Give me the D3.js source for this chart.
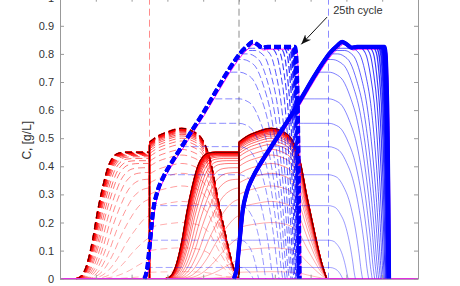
<!DOCTYPE html>
<html>
<head>
<meta charset="utf-8">
<script src="https://cdn.jsdelivr.net/npm/d3@7"></script>
<style>
  body { margin: 0; background: #fff; }
  svg { display: block; }
  text { font-family: Arial, "Liberation Sans", Helvetica, sans-serif; }
</style>
</head>
<body>
<div id="chart"></div>
<script>
// ---- data (x: position along the 4 columns, 0..100) ----
const xTicks = [0, 10, 20, 30, 40, 50, 60, 70, 80, 90, 100];
const yTicks = [0, 0.1, 0.2, 0.3, 0.4, 0.5, 0.6, 0.7, 0.8, 0.9, 1];
const yTickLabels = ["0", "0.1", "0.2", "0.3", "0.4", "0.5", "0.6", "0.7", "0.8", "0.9", "1"];
const columnEnds = [25, 50, 75];
const columnColors = ["#ff8c8c", "#8c8c8c", "#8c8cff"];
const nCycles = 25;

// red component, 25th cycle, profile at the start of a step (dashed)
const redRiseX = [4.5, 6, 7.5, 9, 10.5, 12, 13.5, 15, 16.5, 18.5];
const redRiseY = [0, 0.01, 0.05, 0.13, 0.24, 0.33, 0.40, 0.435, 0.447, 0.45];
const redHumpX = [25, 27, 30, 34, 37, 40, 42, 44, 46, 48, 49.5];
const redHumpY = [0.486, 0.505, 0.522, 0.535, 0.525, 0.49, 0.42, 0.29, 0.17, 0.06, 0];
// per cycle: plateau in the 1st column, hump top in the 2nd, widening of the front
const redPlateau = [0.02, 0.10, 0.18, 0.245, 0.29, 0.325, 0.355, 0.378, 0.395, 0.41, 0.42, 0.428, 0.434,
                    0.438, 0.441, 0.443, 0.445, 0.446, 0.447, 0.448, 0.449, 0.449, 0.45, 0.45, 0.45];
const redPeak = [0.025, 0.11, 0.20, 0.275, 0.33, 0.375, 0.41, 0.44, 0.46, 0.478, 0.49, 0.50, 0.508,
                 0.514, 0.519, 0.523, 0.526, 0.528, 0.53, 0.531, 0.532, 0.533, 0.534, 0.535, 0.535];
const redStretch = [2.4, 2.15, 1.95, 1.78, 1.63, 1.51, 1.41, 1.33, 1.26, 1.2, 1.16, 1.12, 1.09,
                    1.07, 1.055, 1.042, 1.032, 1.024, 1.017, 1.011, 1.007, 1.004, 1.002, 1.001, 1];

// blue component, 25th cycle front (dashed)
const blueFrontX = [23.6, 24.4, 25.2, 26, 27.2, 28.8, 31, 34, 37, 40, 43, 46, 48.5, 50.5, 52.5, 53.8, 55, 56.5, 58, 62, 66];
const blueFrontY = [0, 0.04, 0.14, 0.24, 0.31, 0.36, 0.41, 0.47, 0.53, 0.59, 0.655, 0.72, 0.77, 0.805, 0.83, 0.843, 0.835, 0.822, 0.825, 0.825, 0.825];
// per cycle: level reached, where the rear starts to fall and where it hits zero
const blueLevel = [0.04, 0.137, 0.26, 0.37, 0.47, 0.553, 0.64, 0.735, 0.78, 0.80, 0.812, 0.82, 0.85,
                   0.85, 0.85, 0.85, 0.85, 0.85, 0.85, 0.85, 0.85, 0.85, 0.85, 0.85, 0.85];
const blueDropStart = [50, 50, 50, 50, 50, 50, 50, 50, 51, 52.5, 54.5, 56.5, 58.5,
                       60, 61.3, 62.4, 63.2, 63.9, 64.4, 64.8, 65.1, 65.3, 65.4, 65.5, 65.6];
const blueDropEnd = [54, 55.5, 57.5, 59.5, 61.2, 62.2, 62.9, 63.5, 64, 64.5, 64.9, 65.3, 65.6,
                     65.9, 66.1, 66.3, 66.45, 66.55, 66.65, 66.7, 66.75, 66.8, 66.85, 66.9, 66.9];
const dropT = [0, 0.15, 0.3, 0.45, 0.6, 0.72, 0.82, 0.9, 0.96, 1];
const dropF = [1, 0.99, 0.96, 0.88, 0.76, 0.6, 0.42, 0.24, 0.08, 0];

const stepShift = 25;          // solid curves = profile one column further on
const noteText = "25th cycle";
const notePos = [76.3, 0.942];
const arrowFrom = [74.6, 0.931];
const arrowTo = [67.4, 0.834];

// ---- drawing ----
const width = 460, height = 286;
const x = d3.scaleLinear().domain([0, 100]).range([60, 418]);
const y = d3.scaleLinear().domain([0, 1]).range([278.7, -2.3]);

const svg = d3.select("#chart").append("svg")
  .attr("width", width).attr("height", height);

const smooth = d3.line().x(d => x(d[0])).y(d => y(d[1])).curve(d3.curveMonotoneX);
const straight = d3.line().x(d => x(d[0])).y(d => y(d[1]));

// column boundaries
svg.append("g").selectAll("line").data(columnEnds).join("line")
  .attr("x1", d => x(d)).attr("x2", d => x(d))
  .attr("y1", y(1)).attr("y2", y(0))
  .attr("stroke", (d, i) => columnColors[i])
  .attr("stroke-width", 1)
  .attr("stroke-dasharray", "7,4");

function redPaths(k, off) {
  const p = redPlateau[k], q = redPeak[k], g = redStretch[k];
  const sy = p / d3.max(redRiseY);
  const sx = redRiseX.map(v => v * g);
  const rise = d3.scaleLinear().domain(sx).range(redRiseY.map(v => v * sy)).clamp(true);
  const pts = [];
  sx.forEach((v, i) => { if (v < columnEnds[0]) pts.push([v, redRiseY[i] * sy]); });
  const end = rise(columnEnds[0]);
  pts.push([columnEnds[0], end]);
  const hs = q / d3.max(redHumpY);
  const hump = redHumpX.map((v, i) => [v, redHumpY[i] * hs]);
  const sh = a => a.map(d => [d[0] + off, d[1]]);
  return smooth(sh(pts)) +
    straight(sh([[columnEnds[0], end], [columnEnds[0], 0], [columnEnds[0], hump[0][1]]])) +
    smooth(sh(hump));
}

const front = d3.scaleLinear().domain(blueFrontX).range(blueFrontY).clamp(true);
function bluePath(k, off, dy) {
  const h = blueLevel[k], a = blueDropStart[k], b = blueDropEnd[k];
  const pts = [];
  for (let i = 0; i < blueFrontX.length && blueFrontX[i] < a; i++) {
    const fy = blueFrontY[i];
    if (i > 0 && blueFrontY[i - 1] < h && fy > h) {
      const t = (h - blueFrontY[i - 1]) / (fy - blueFrontY[i - 1]);
      pts.push([blueFrontX[i - 1] + t * (blueFrontX[i] - blueFrontX[i - 1]), h]);
    }
    pts.push([blueFrontX[i], Math.min(fy, h)]);
  }
  const ya = Math.min(front(a), h);
  dropT.forEach((t, j) => pts.push([a + t * (b - a), ya * dropF[j]]));
  return smooth(pts.map(d => [d[0] + off, d[1] * (dy || 1)]));
}

const cycles = d3.range(nCycles);
const frac = k => k / (nCycles - 1);

// red component
const gRed = svg.append("g").attr("fill", "none");
[[0, "7,4"], [stepShift, null]].forEach(([off, dash]) => {
  gRed.append("g").selectAll("path").data(cycles).join("path")
    .attr("d", k => redPaths(k, off))
    .attr("stroke", "#ff0000")
    .attr("stroke-opacity", k => 0.35 + 0.65 * frac(k))
    .attr("stroke-width", k => 0.8 + 0.7 * frac(k) * frac(k))
    .attr("stroke-dasharray", dash);
  gRed.append("path")
    .attr("d", redPaths(nCycles - 1, off))
    .attr("stroke", "#500000")
    .attr("stroke-width", 1)
    .attr("stroke-dasharray", dash);
});

// magenta reference for the blue component
const gRef = svg.append("g").attr("fill", "none").attr("stroke", "#ff00ff").attr("stroke-width", 1);
gRef.append("path").attr("d", straight([[0, 0], [100, 0]])).attr("stroke-width", 1.5);
[0, stepShift].forEach(off => {
  gRef.append("path").attr("d", bluePath(nCycles - 1, off + 0.4, 0.99));
});

// blue component
const gBlue = svg.append("g").attr("fill", "none");
[[0, "7,3"], [stepShift, null]].forEach(([off, dash]) => {
  gBlue.append("g").selectAll("path").data(cycles).join("path")
    .attr("d", k => bluePath(k, off))
    .attr("stroke", "#0000ff")
    .attr("stroke-opacity", k => 0.45 + 0.55 * frac(k))
    .attr("stroke-width", k => 0.8 + 3.4 * Math.pow(frac(k), 4))
    .attr("stroke-dasharray", dash);
});

// axes (ticks inside, MATLAB style)
const axisColor = "#999";
function styleAxis(g) {
  g.select(".domain").attr("stroke", axisColor);
  g.selectAll(".tick line").attr("stroke", axisColor);
  g.selectAll(".tick text").attr("fill", "#333").style("font-size", "11px");
}
svg.append("g").attr("transform", `translate(${x(0)},0)`)
  .call(d3.axisLeft(y).tickValues(yTicks).tickFormat((d, i) => yTickLabels[i])
    .tickSizeInner(-4).tickSizeOuter(0).tickPadding(6))
  .call(styleAxis);
svg.append("g").attr("transform", `translate(${x(100)},0)`)
  .call(d3.axisRight(y).tickValues(yTicks).tickFormat("").tickSizeInner(-4).tickSizeOuter(0))
  .call(styleAxis);
// x labels sit just below the visible frame, as in the cropped original
svg.append("g").attr("transform", `translate(0,${y(0)})`)
  .call(d3.axisBottom(x).tickValues(xTicks).tickSizeInner(-4).tickSizeOuter(0).tickPadding(8))
  .call(styleAxis);
svg.append("g").attr("transform", `translate(0,${y(1)})`)
  .call(d3.axisTop(x).tickValues(xTicks).tickFormat("").tickSizeInner(-4).tickSizeOuter(0))
  .call(styleAxis);

// axis label
svg.append("text")
  .attr("transform", `translate(31,${y(0.5) + 2}) rotate(-90)`)
  .attr("text-anchor", "middle")
  .attr("fill", "#333")
  .style("font-size", "12px")
  .text("C, [g/L]");

// annotation
svg.append("defs").append("marker")
  .attr("id", "head").attr("viewBox", "-10 -5 12 10")
  .attr("markerWidth", 12).attr("markerHeight", 10)
  .attr("markerUnits", "userSpaceOnUse")
  .attr("refX", 0).attr("refY", 0).attr("orient", "auto")
  .append("path").attr("d", "M0,0L-10,-4L-7,0L-10,4Z").attr("fill", "#111");
svg.append("line")
  .attr("x1", x(arrowFrom[0])).attr("y1", y(arrowFrom[1]))
  .attr("x2", x(arrowTo[0])).attr("y2", y(arrowTo[1]))
  .attr("stroke", "#111").attr("stroke-width", 1)
  .attr("marker-end", "url(#head)");
svg.append("text")
  .attr("x", x(notePos[0])).attr("y", y(notePos[1]))
  .attr("fill", "#333")
  .style("font-size", "11px")
  .text(noteText);
</script>
</body>
</html>
